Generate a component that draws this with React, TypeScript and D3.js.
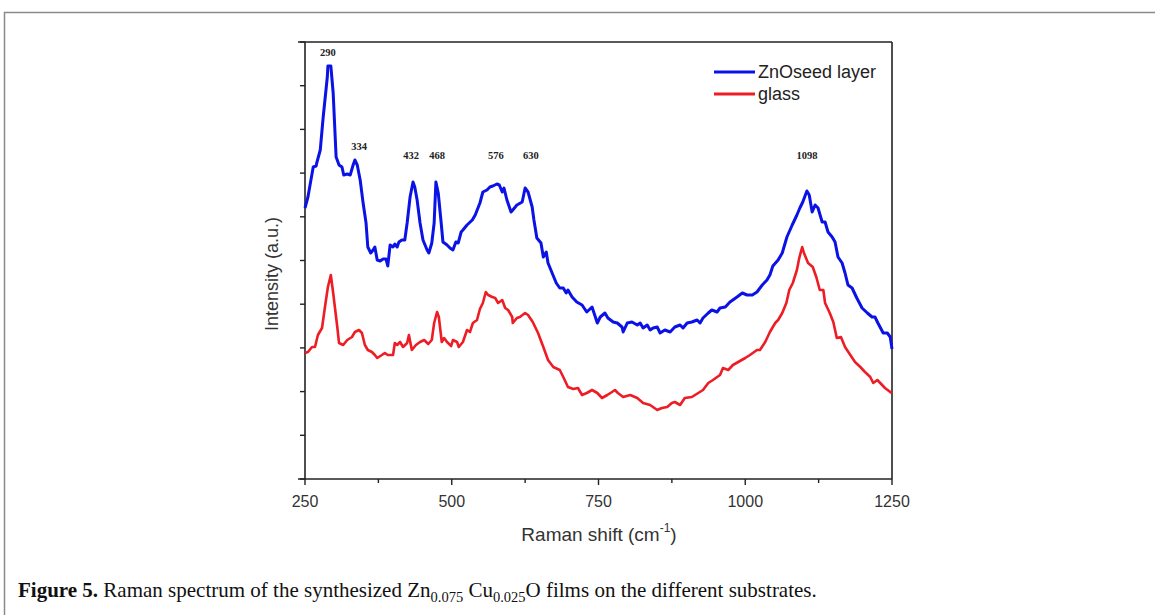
import React from "react";
import * as d3 from "d3";

// Raman shift (cm^-1), intensity (a.u.)
const blueSeries: [number, number][] = [[250,271],[255,282],[264,312],[269,313],[270,316],[276,329],[281,362],[288,402],[289,413],[294,413],[298,386],[303,322],[308,314],[313,312],[316,304],[322,305],[327,304],[332,314],[335,319],[339,314],[344,299],[349,276],[354,256],[357,232],[362,226],[366,229],[369,232],[373,219],[378,218],[383,220],[388,220],[391,213],[395,234],[400,232],[403,235],[407,232],[410,237],[415,239],[420,239],[424,256],[429,282],[434,297],[437,292],[441,279],[446,256],[451,239],[458,229],[461,226],[466,236],[470,256],[473,297],[477,286],[482,256],[485,237],[492,234],[497,231],[502,229],[507,237],[511,236],[516,247],[519,249],[526,254],[535,259],[540,264],[548,276],[553,287],[560,289],[565,292],[570,293],[577,295],[581,294],[586,287],[589,291],[594,279],[601,267],[604,269],[611,274],[620,277],[625,291],[630,287],[637,272],[640,259],[645,241],[652,236],[656,222],[661,227],[664,216],[671,206],[678,196],[684,191],[690,191],[695,186],[698,189],[705,182],[713,177],[722,174],[730,167],[739,172],[748,156],[753,162],[761,166],[766,161],[775,157],[782,156],[790,152],[792,147],[799,156],[807,157],[816,154],[821,156],[826,151],[833,154],[838,149],[843,151],[850,152],[855,146],[863,149],[872,147],[880,152],[889,154],[894,151],[901,156],[909,157],[918,159],[923,156],[928,161],[937,166],[943,169],[952,167],[957,171],[966,172],[974,177],[986,182],[995,186],[1003,184],[1012,184],[1020,187],[1029,194],[1037,199],[1042,204],[1047,213],[1056,219],[1063,226],[1071,242],[1080,254],[1088,264],[1093,271],[1098,277],[1105,288],[1109,284],[1114,267],[1119,274],[1124,271],[1131,257],[1136,257],[1141,247],[1148,242],[1153,237],[1158,222],[1165,216],[1170,206],[1175,194],[1182,191],[1190,181],[1199,171],[1208,166],[1216,162],[1221,162],[1226,156],[1235,146],[1242,146],[1247,142],[1250,130]];

const redSeries: [number, number][] = [[250,126],[255,127],[262,132],[267,132],[272,144],[279,151],[284,172],[289,192],[294,204],[298,186],[305,152],[308,136],[315,134],[322,139],[330,142],[335,147],[342,149],[347,146],[352,134],[357,129],[364,127],[369,124],[373,121],[381,124],[386,126],[391,124],[400,124],[403,136],[407,134],[412,137],[417,132],[424,136],[427,144],[432,129],[439,134],[446,137],[453,139],[460,135],[466,139],[470,156],[475,167],[478,162],[483,137],[487,141],[492,137],[499,133],[502,139],[509,137],[512,132],[519,137],[526,149],[531,147],[536,156],[543,159],[548,170],[553,176],[558,187],[562,184],[569,182],[574,181],[579,176],[586,179],[591,171],[596,169],[603,162],[604,156],[611,161],[616,162],[625,166],[630,164],[638,157],[647,146],[656,132],[664,119],[673,112],[684,109],[690,102],[698,92],[707,90],[715,91],[722,84],[730,86],[739,89],[748,86],[756,81],[765,84],[773,87],[778,89],[783,86],[792,82],[804,84],[816,81],[826,76],[838,74],[850,69],[858,71],[867,72],[875,76],[880,77],[889,74],[897,81],[909,82],[920,86],[928,89],[937,96],[945,99],[957,104],[962,111],[971,109],[979,114],[988,117],[1000,121],[1008,124],[1020,129],[1025,129],[1034,137],[1042,147],[1051,156],[1056,159],[1063,166],[1070,176],[1075,189],[1081,196],[1088,209],[1092,221],[1097,232],[1100,226],[1107,216],[1115,212],[1121,202],[1127,189],[1133,189],[1136,176],[1144,166],[1150,157],[1156,141],[1163,142],[1170,132],[1179,124],[1187,117],[1196,112],[1204,107],[1213,102],[1218,96],[1225,99],[1230,96],[1238,91],[1247,87],[1250,86]];

const xMajorTicks = [250, 500, 750, 1000, 1250];
const xMinorTicks = [375, 625, 875, 1125];
const yTicks = [0, 43.7, 87.4, 131.1, 174.8, 218.5, 262.2, 305.9, 349.6, 393.3, 437];

// peak annotations: label, x position (cm^-1), label baseline (a.u.)
const peakLabels = ["290", "334", "432", "468", "576", "630", "1098"];
const peakLabelX = [289, 342, 431, 475, 575, 635, 1105];
const peakLabelY = [423, 329, 320, 320, 320, 320, 320];

const seriesNames = ["ZnOseed layer", "glass"];
const seriesColors = ["#0a12e6", "#ee1c24"];

export default function App() {
  const W = 1155, H = 615;
  const x = d3.scaleLinear().domain([250, 1250]).range([305, 892]);
  const y = d3.scaleLinear().domain([0, 437]).range([479, 42]);
  const line = d3.line<[number, number]>().x(d => x(d[0])).y(d => y(d[1]));
  const sans = "'Liberation Sans', Arial, sans-serif";
  const serif = "'Liberation Serif', 'Times New Roman', serif";
  const axisColor = "#222";

  return (
    <div style={{ position: "fixed", left: 0, top: 0, width: W, height: H, background: "#fff" }}>
      <svg width={W} height={H} style={{ display: "block" }}>
        <rect width={W} height={H} fill="#fff" />
        {/* page frame */}
        <path d={`M${W},12.5 H4.5 V${H}`} fill="none" stroke="#8a8a8a" strokeWidth={1.5} />

        {/* plot frame */}
        <line x1={298} x2={892} y1={y(437)} y2={y(437)} stroke={axisColor} strokeWidth={1.6} />
        <line x1={298} x2={892} y1={y(0)} y2={y(0)} stroke={axisColor} strokeWidth={1.6} />
        <line x1={x(250)} x2={x(250)} y1={y(437)} y2={y(0)} stroke={axisColor} strokeWidth={1.6} />
        <line x1={x(1250)} x2={x(1250)} y1={y(437)} y2={y(0)} stroke={axisColor} strokeWidth={1.6} />

        {/* y ticks */}
        {yTicks.map((t, i) => (
          <line key={"yt" + i} x1={x(250) - 5} x2={x(250)} y1={y(t)} y2={y(t)} stroke={axisColor} strokeWidth={1.4} />
        ))}
        {/* x ticks */}
        {xMajorTicks.map((t) => (
          <line key={"xM" + t} x1={x(t)} x2={x(t)} y1={y(0)} y2={y(0) + 6} stroke={axisColor} strokeWidth={1.4} />
        ))}
        {xMinorTicks.map((t) => (
          <line key={"xm" + t} x1={x(t)} x2={x(t)} y1={y(0)} y2={y(0) + 4} stroke={axisColor} strokeWidth={1.4} />
        ))}
        {xMajorTicks.map((t) => (
          <text key={"xl" + t} x={x(t)} y={507} textAnchor="middle" fontFamily={sans} fontSize={16} fill="#333">
            {t}
          </text>
        ))}

        {/* axis titles */}
        <text x={599} y={541} textAnchor="middle" fontFamily={sans} fontSize={19} fill="#333">
          Raman shift (cm
          <tspan fontSize={12} dy={-9}>-1</tspan>
          <tspan dy={9}>)</tspan>
        </text>
        <text transform="translate(278,274) rotate(-90)" textAnchor="middle" fontFamily={sans} fontSize={18} fill="#333">
          Intensity (a.u.)
        </text>

        {/* series */}
        <path d={line(redSeries) || ""} fill="none" stroke={seriesColors[1]} strokeWidth={2.6} strokeLinejoin="round" />
        <path d={line(blueSeries) || ""} fill="none" stroke={seriesColors[0]} strokeWidth={3} strokeLinejoin="round" />

        {/* peak labels */}
        {peakLabels.map((l, i) => (
          <text key={"pk" + l} x={x(peakLabelX[i])} y={y(peakLabelY[i])} textAnchor="middle" fontFamily={serif} fontWeight="bold" fontSize={10.5} fill="#222">
            {l}
          </text>
        ))}

        {/* legend */}
        {seriesNames.map((n, i) => (
          <g key={n}>
            <line x1={714} x2={755} y1={72 + i * 22} y2={72 + i * 22} stroke={seriesColors[i]} strokeWidth={3} />
            <text x={758} y={78 + i * 22} fontFamily={sans} fontSize={18} fill="#222">{n}</text>
          </g>
        ))}

        {/* caption */}
        <text x={18} y={597} fontFamily={serif} fontSize={21} fill="#111">
          <tspan fontWeight="bold">Figure 5.</tspan>
          <tspan> Raman spectrum of the synthesized Zn</tspan>
          <tspan fontSize={14.5} dy={5}>0.075</tspan>
          <tspan dy={-5}> Cu</tspan>
          <tspan fontSize={14.5} dy={5}>0.025</tspan>
          <tspan dy={-5}>O films on the different substrates.</tspan>
        </text>
      </svg>
    </div>
  );
}
